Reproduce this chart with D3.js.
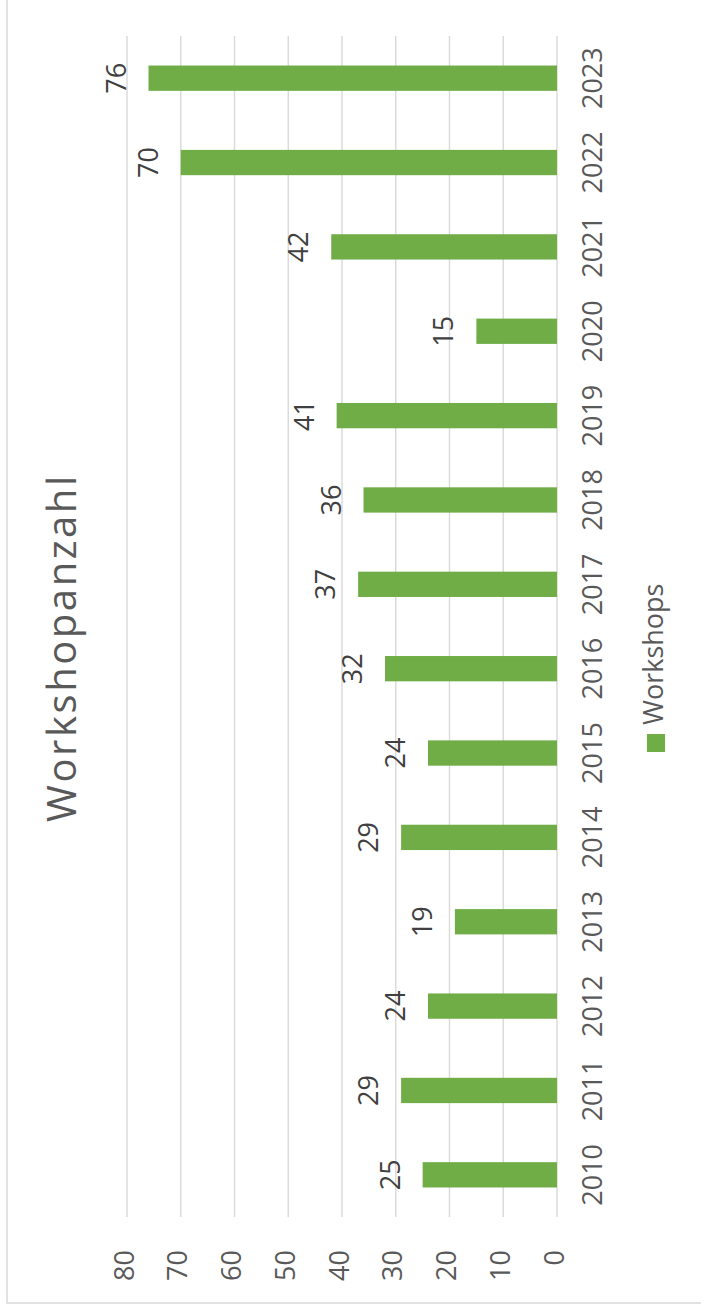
<!DOCTYPE html>
<html>
<head>
<meta charset="utf-8">
<script src="https://cdn.jsdelivr.net/npm/d3@7"></script>
<style>
html,body{margin:0;padding:0;background:#fff;}
svg{display:block;}
text{font-family:"Open Sans",sans-serif;}
</style>
</head>
<body>
<svg id="chart" width="701" height="1308"></svg>
<script>
const years = ["2010","2011","2012","2013","2014","2015","2016","2017","2018","2019","2020","2021","2022","2023"];
const workshops = [25,29,24,19,29,24,32,37,36,41,15,42,70,76];
const valueTicks = [0,10,20,30,40,50,60,70,80];
const seriesName = "Workshops";
const chartTitle = "Workshopanzahl";

const W = 1308, H = 701; // unrotated frame
const svg = d3.select("#chart");
const g = svg.append("g").attr("transform", `translate(0,${W}) rotate(-90)`);

// chart border (cropped at original right/bottom)
g.append("rect").attr("x",5).attr("y",7).attr("width",1330).attr("height",720)
  .attr("fill","none").attr("stroke","#d9d9d9").attr("stroke-width",1.5);

const x = d3.scaleBand().domain(years).range([91,1272]).paddingInner(0.7).paddingOuter(0.35);
const y = d3.scaleLinear().domain([0,80]).range([557,127]);

// gridlines
g.append("g").selectAll("line").data(valueTicks).join("line")
  .attr("x1",91).attr("x2",1272)
  .attr("y1",d=>y(d)).attr("y2",d=>y(d))
  .attr("stroke","#d9d9d9").attr("stroke-width",1.4);

// value tick labels
g.append("g").selectAll("text").data(valueTicks).join("text")
  .attr("x",58).attr("y",d=>y(d)+6.5)
  .attr("text-anchor","end").attr("font-size",27).attr("fill","#595959")
  .text(d=>d);

// bars
g.append("g").selectAll("rect").data(years).join("rect")
  .attr("x",d=>x(d)).attr("width",x.bandwidth())
  .attr("y",(d,i)=>y(workshops[i])).attr("height",(d,i)=>y(0)-y(workshops[i]))
  .attr("fill","#70ad47");

// data labels
g.append("g").selectAll("text").data(years).join("text")
  .attr("x",d=>x(d)+x.bandwidth()/2).attr("y",(d,i)=>y(workshops[i])-23)
  .attr("text-anchor","middle").attr("font-size",27).attr("fill","#404040")
  .text((d,i)=>workshops[i]);

// category labels
g.append("g").selectAll("text").data(years).join("text")
  .attr("x",d=>x(d)+x.bandwidth()/2).attr("y",602)
  .attr("text-anchor","middle").attr("font-size",27).attr("fill","#595959")
  .text(d=>d);

// title
g.append("text").attr("x",659).attr("y",76).attr("text-anchor","middle")
  .attr("font-size",40).attr("fill","#595959")
  .attr("textLength",346).attr("lengthAdjust","spacing").text(chartTitle);

// legend
g.append("rect").attr("x",556).attr("y",647).attr("width",18).attr("height",18).attr("fill","#70ad47");
g.append("text").attr("x",583).attr("y",663).attr("font-size",27).attr("fill","#595959").text(seriesName);
</script>
</body>
</html>
